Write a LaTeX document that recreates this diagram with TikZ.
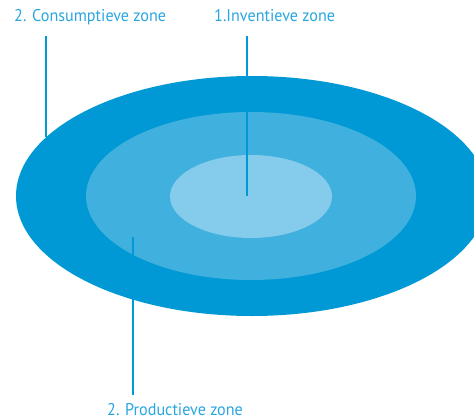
\documentclass[tikz,border=0pt]{standalone}
\usepackage{fontspec}
\setmainfont{PT Sans}[FakeStretch=0.95]
\usetikzlibrary{shapes.geometric}

\definecolor{zoneOuter}{HTML}{0099D5}
\definecolor{zoneMid}{HTML}{40B0DF}
\definecolor{zoneInner}{HTML}{85CBEB}
\definecolor{labelBlue}{HTML}{2AA6DF}

\begin{document}
\begin{tikzpicture}[x=1pt,y=-1pt,
  zone/.style={ellipse, inner sep=0pt, draw=none},
  zonelabel/.style={font=\fontsize{17}{20}\selectfont, text=labelBlue,
                    inner sep=0pt, anchor=base west},
  leader/.style={draw=zoneOuter, line width=1.2pt}]
  \useasboundingbox (0,0) rectangle (474,420);

  % three nested zones, the outer one running off the right edge
  \begin{scope}
    \clip (0,0) rectangle (474,420);
    \node[zone, fill=zoneOuter, minimum width=472pt, minimum height=240pt]
      (outer) at (252,196) {};
  \end{scope}
  \node[zone, fill=zoneMid, minimum width=330pt, minimum height=168pt]
    (middle) at (251,196) {};
  \node[zone, fill=zoneInner, minimum width=162pt, minimum height=83pt]
    (inner) at (251,196.5) {};

  % labels
  \node[zonelabel] (cons) at (14,22) {2. Consumptieve zone};
  \node[zonelabel] (inv)  at (214,22) {1.Inventieve zone};
  \node[zonelabel] (prod) at (107,415) {2. Productieve zone};

  % leader line end points
  \coordinate (consTop) at (46,36);
  \coordinate (consEnd) at (46,137);
  \coordinate (invTop)  at (247,36);
  \coordinate (invEnd)  at (247,196);
  \coordinate (prodEnd) at (133,237);
  \coordinate (prodBot) at (133,395);

  \draw[leader] (consTop) -- (consEnd);
  \draw[leader] (invTop) -- (invEnd);
  \draw[leader] (prodEnd) -- (prodBot);
\end{tikzpicture}
\end{document}
